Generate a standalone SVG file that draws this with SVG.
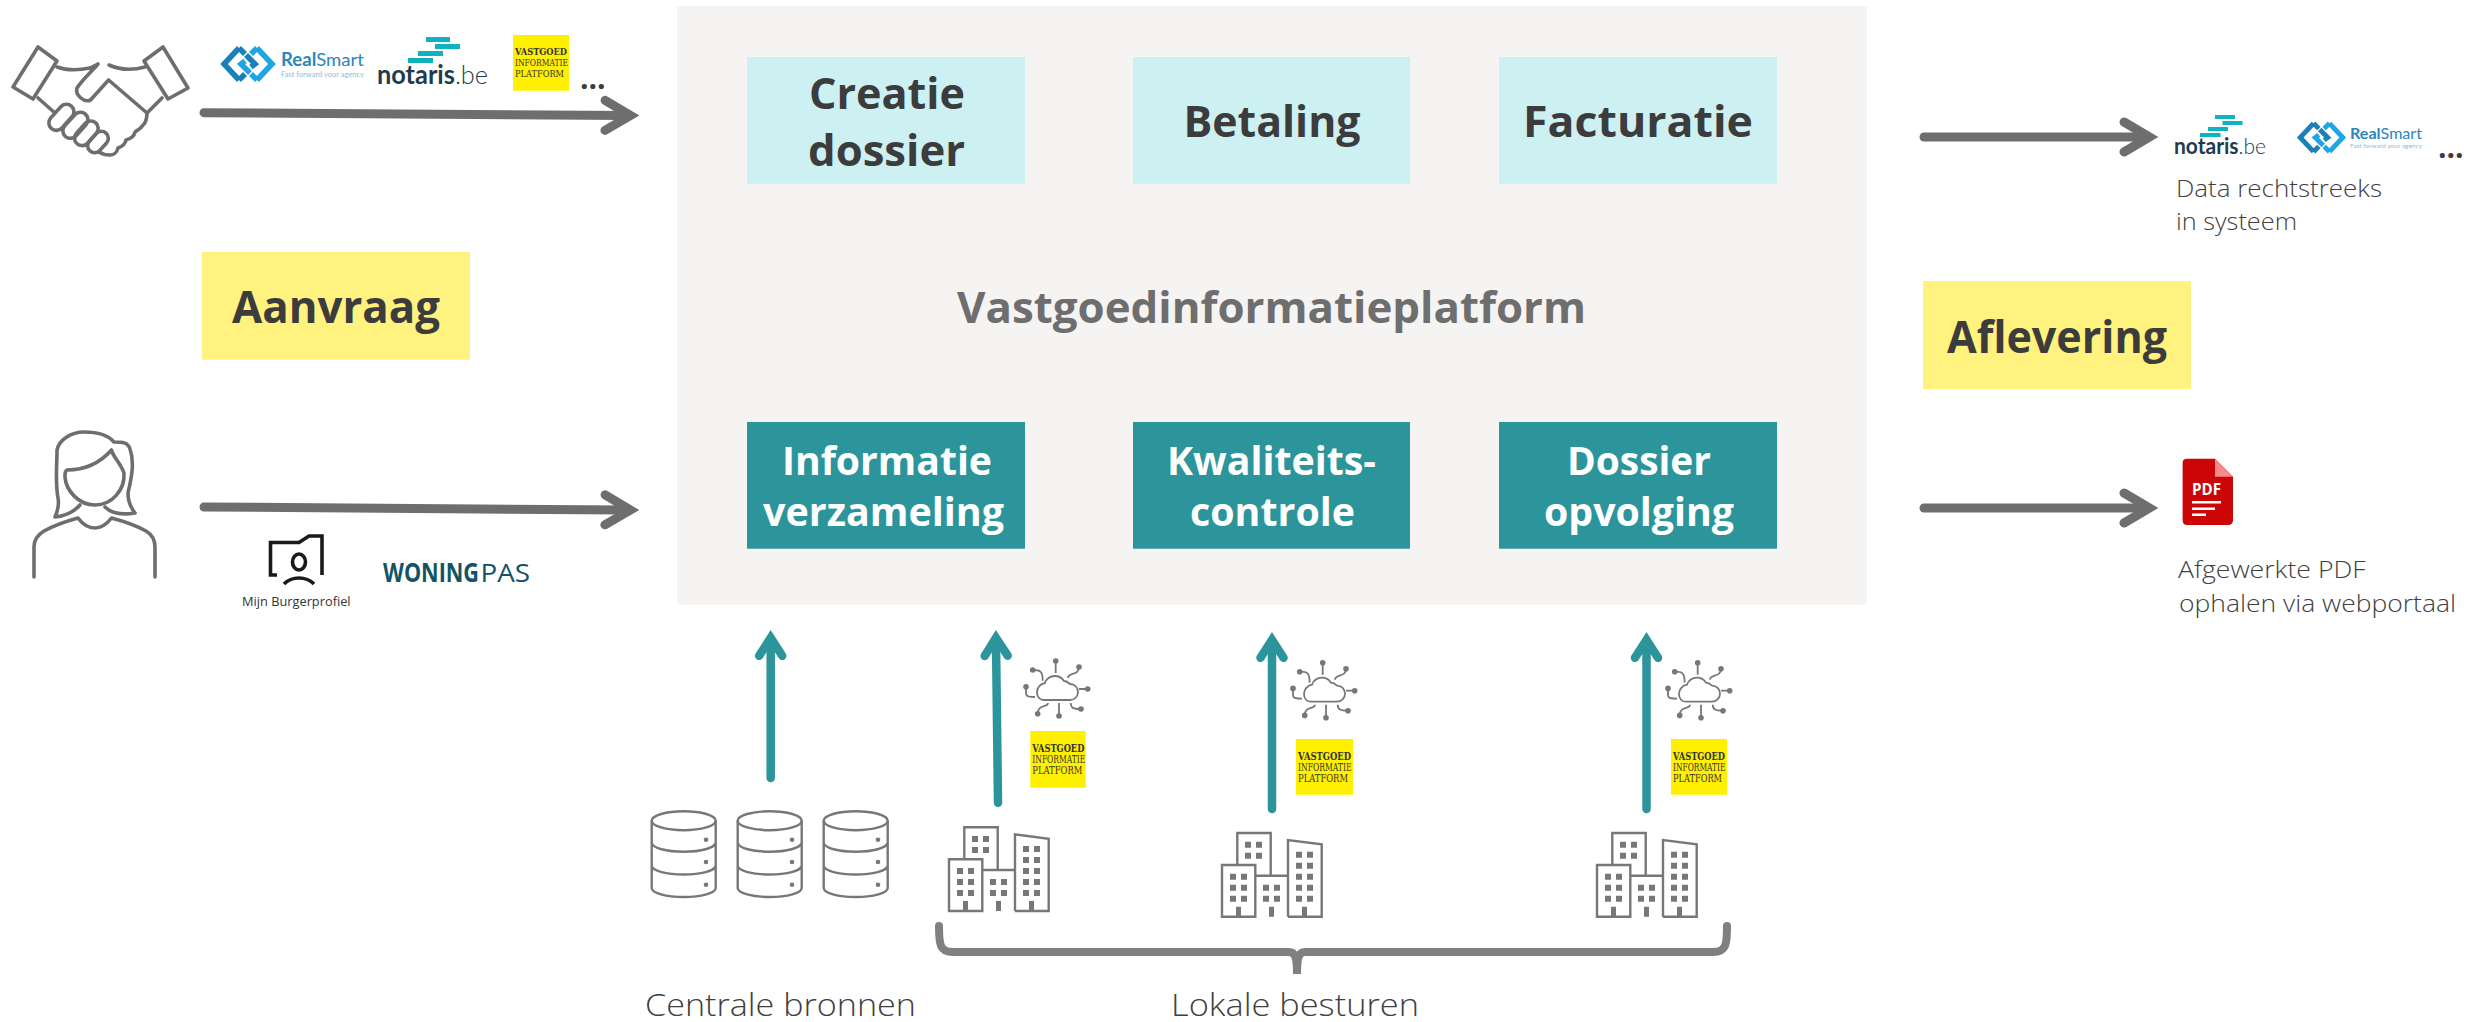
<svg xmlns="http://www.w3.org/2000/svg" xmlns:xlink="http://www.w3.org/1999/xlink" width="2468" height="1022" viewBox="0 0 2468 1022">
<style>
text{font-family:"Open Sans","Noto Sans","Liberation Sans",sans-serif}
.b{font-weight:700;fill:#3c3c3c}
.w{font-weight:700;fill:#fff}
.l{font-weight:300;fill:#404040}
.light{fill:#cdf0f2}
.dark{fill:#2c959c}
.note{fill:#fff27f}
.ic{fill:none;stroke:#6e6e6e;stroke-width:3.6;stroke-linejoin:round;stroke-linecap:round}
.thin{fill:none;stroke:#777;stroke-width:2.4}
.hair{fill:none;stroke:#777;stroke-width:1.8}
.win{fill:#777}
.ga{fill:none;stroke:#6e6e6e;stroke-width:9;stroke-linecap:round;marker-end:url(#gh)}
.ta{fill:none;stroke:#2c959c;stroke-width:8.5;stroke-linecap:round;marker-end:url(#th)}
.vb{fill:#fff000}
.v1{font-family:"DejaVu Serif",serif;font-weight:700;fill:#333}
.v2{font-family:"DejaVu Serif",serif;font-weight:400;fill:#333}
.rsb{font-family:"Lato","Open Sans",sans-serif;fill:#2a86bb}
.rss{font-family:"Lato","Open Sans",sans-serif;fill:#8fbddb}
.nt{font-family:"Lato","Open Sans",sans-serif;fill:#1f3c4e}
.bar{fill:#10b2c0}
.dots{font-weight:700;fill:#3c3c3c}
</style>
<defs>
<marker id="gh" markerUnits="userSpaceOnUse" markerWidth="60" markerHeight="60" refX="25.5" refY="30" orient="auto" overflow="visible">
<path d="M4.5 15L30 30L4.5 45" fill="none" stroke="#6e6e6e" stroke-width="9" stroke-linecap="round" stroke-linejoin="miter"/>
</marker>
<marker id="th" markerUnits="userSpaceOnUse" markerWidth="60" markerHeight="60" refX="25.8" refY="30" orient="auto" overflow="visible">
<path d="M12 18.5L30 30L12 41.5" fill="none" stroke="#2c959c" stroke-width="8.5" stroke-linecap="round" stroke-linejoin="miter"/>
</marker>
<g id="cyl">
<ellipse class="thin" cx="683.7" cy="820.7" rx="32" ry="9.5"/>
<path class="thin" d="M651.7 820.7V888C651.7 893 666 897 683.7 897S715.7 893 715.7 888V820.7M651.7 843C653 848 666 851.7 683.7 851.7S714 848 715.7 843M651.7 866C653 871 666 874.5 683.7 874.5S714 871 715.7 866"/>
<circle class="win" cx="706" cy="839.7" r="2.3"/><circle class="win" cx="706" cy="862" r="2.3"/><circle class="win" cx="706" cy="884.7" r="2.3"/>
</g>
<g id="bld">
<path class="thin" d="M949 859.3H982.3V911H949ZM982.3 911V870H1015V911M964.3 859.3V827.3H997.7V870M1015 870V834.3L1048.7 838.7V911H1015"/>
<path class="win" d="M972 836h6v6h-6zM983 836h6v6h-6zM972 847h6v6h-6zM983 847h6v6h-6zM957 868h6v6h-6zM968 868h6v6h-6zM957 879h6v6h-6zM968 879h6v6h-6zM957 890h6v6h-6zM968 890h6v6h-6zM990 879h6v6h-6zM1001 879h6v6h-6zM990 890h6v6h-6zM1001 890h6v6h-6zM1023 846h6v6h-6zM1034 846h6v6h-6zM1023 857h6v6h-6zM1034 857h6v6h-6zM1023 868h6v6h-6zM1034 868h6v6h-6zM1023 879h6v6h-6zM1034 879h6v6h-6zM1023 890h6v6h-6zM1034 890h6v6h-6zM963 901h5v10h-5zM996 901h5v10h-5zM1029 901h5v10h-5z"/>
</g>
<g id="cloud">
<path class="hair" d="M1044 700H1070C1075 700 1078 696 1078 692C1078 688 1075 684 1070 684C1068 682 1066 681 1064 681C1062 678 1058 676 1055 676C1050 676 1046 679 1045 683C1040 684 1037 688 1037 692C1037 697 1040 700 1044 700Z"/>
<path class="hair" d="M1055.7 661V673M1079 667C1079 676 1068 672 1068 678M1087.7 689H1079M1081 709C1073 709 1071 708 1070.7 703M1059 716V703M1037.7 713.7C1037.7 704 1048 708 1048 703M1026 686.7V693C1026 697 1030 697 1035 697M1032.7 670C1040 670 1042.7 671 1042.7 680.7"/>
<g class="win"><circle cx="1055.7" cy="661" r="2.8"/><circle cx="1079" cy="667" r="2.8"/><circle cx="1087.7" cy="689" r="2.8"/><circle cx="1081" cy="709" r="2.8"/><circle cx="1059" cy="716" r="2.8"/><circle cx="1037.7" cy="713.7" r="2.8"/><circle cx="1026" cy="686.7" r="2.8"/><circle cx="1032.7" cy="670" r="2.8"/></g>
</g>
<g id="rsmark" fill="none" stroke-width="5.5">
<path stroke="#1a80b8" d="M-9 -16L-24 0L-9 16M-9 -16L-3 -10M-9 16L-3 10M3 3L7 0L-2 -9"/>
<path stroke="#1ea5e6" d="M9 -16L24 0L9 16M9 -16L3 -10M9 16L3 10M-3 -3L-7 0L2 9"/>
</g>
</defs>

<rect width="2468" height="1022" fill="#fff"/>

<g id="platform">
<rect x="677" y="6" width="1190" height="598.7" fill="#f5f4f2"/>
<text x="957" y="323" font-size="43" textLength="629" lengthAdjust="spacingAndGlyphs" font-weight="700" fill="#6e6e6e">Vastgoedinformatieplatform</text>
</g>

<g id="creatie-dossier"><rect class="light" x="747" y="57" width="278" height="126.7"/>
<text class="b" x="809" y="109" font-size="43" textLength="156" lengthAdjust="spacingAndGlyphs">Creatie</text>
<text class="b" x="808" y="166" font-size="43" textLength="157" lengthAdjust="spacingAndGlyphs">dossier</text></g>
<g id="betaling"><rect class="light" x="1133" y="57" width="277" height="126.7"/>
<text class="b" x="1183.5" y="137" font-size="43" textLength="177" lengthAdjust="spacingAndGlyphs">Betaling</text></g>
<g id="facturatie"><rect class="light" x="1499" y="57" width="278" height="126.7"/>
<text class="b" x="1523" y="137" font-size="43" textLength="230" lengthAdjust="spacingAndGlyphs">Facturatie</text></g>

<g id="informatieverzameling"><rect class="dark" x="747" y="422" width="278" height="126.7"/>
<text class="w" x="782" y="475" font-size="39" textLength="210" lengthAdjust="spacingAndGlyphs">Informatie</text>
<text class="w" x="763" y="526" font-size="39" textLength="241" lengthAdjust="spacingAndGlyphs">verzameling</text></g>
<g id="kwaliteitscontrole"><rect class="dark" x="1133" y="422" width="277" height="126.7"/>
<text class="w" x="1167" y="475" font-size="39" textLength="209" lengthAdjust="spacingAndGlyphs">Kwaliteits-</text>
<text class="w" x="1190" y="526" font-size="39" textLength="165" lengthAdjust="spacingAndGlyphs">controle</text></g>
<g id="dossieropvolging"><rect class="dark" x="1499" y="422" width="278" height="126.7"/>
<text class="w" x="1567" y="475" font-size="39" textLength="144" lengthAdjust="spacingAndGlyphs">Dossier</text>
<text class="w" x="1544" y="526" font-size="39" textLength="190" lengthAdjust="spacingAndGlyphs">opvolging</text></g>

<g id="aanvraag"><rect class="note" x="202" y="252" width="268" height="107.7"/>
<text class="b" x="232" y="323" font-size="45" textLength="208" lengthAdjust="spacingAndGlyphs">Aanvraag</text></g>
<g id="aflevering"><rect class="note" x="1923" y="281" width="268" height="108"/>
<text class="b" x="1947" y="352.7" font-size="44" textLength="220" lengthAdjust="spacingAndGlyphs">Aflevering</text></g>

<g id="connectors">
<path class="ga" d="M204 112.7L626 115.5"/>
<path class="ga" d="M204 507L626 510"/>
<path class="ga" d="M1924 137H2145"/>
<path class="ga" d="M1924 508H2145"/>
<path class="ta" d="M770.7 778V642"/>
<path class="ta" d="M998 802.7L996 642"/>
<path class="ta" d="M1272 809V644"/>
<path class="ta" d="M1646.5 809V644"/>
<path fill="none" stroke="#808080" stroke-width="8" stroke-linecap="round" d="M939 926C939 945 940 952 953 952H1289C1295 952 1297 957 1297 974C1297 957 1299 952 1305 952H1713C1726 952 1727 945 1727 926"/>
</g>

<g id="handshake">
<path class="ic" d="M38 47L57 61L33 99L13 87ZM163 47L144 61L168 99L188 88Z"/>
<path class="ic" d="M57 67C68 71 80 70 90 68M109 65C120 70 134 70 145 67M162 98L147 113M38 98L55 113"/>
<path class="ic" d="M90 68L98 64C92 71 82 80 77 88C75 95 84 103 90.5 100L108.6 80L147 113C147 119 145 124 143 125C140 130 137 130 135 132C134 137 130 139 126 140C125 145 121 147 118 148C117 153 113 155 110 155C105 155 102 154 99 152"/>
<g class="ic"><rect x="46" y="110" width="30" height="15" rx="7.5" transform="rotate(-48 61 117)"/><rect x="60" y="118" width="30" height="15" rx="7.5" transform="rotate(-48 75 125)"/><rect x="72" y="126" width="28" height="15" rx="7.5" transform="rotate(-48 86 133)"/><rect x="86" y="135" width="24" height="14" rx="7" transform="rotate(-48 98 142)"/></g>
</g>

<g id="person">
<path class="ic" d="M80 505C73 513 65 516 55 517C59 508 59 503 58 498C55 482 57 466 57 450C59 440 71 432 84 432C98 432 109 436 114 442C122 442 128 442 130 449C135 463 131 480 128 493C128 502 131 508 135 513C123 515 112 514 105 507"/>
<path class="ic" d="M67 470C85 470 100 463 111.500 450C113 457 120 462 124 473C125 490 112 505 95 505C78 505 66 490 65 477C65 473 65 471 67 470Z"/>
<path class="ic" stroke-linecap="butt" d="M34 577V547C34 539 39 534 44 531C55 525 67 521 78 518C84 526 89 528 95 528C101 528 106 525 111.500 518C123 521 135 525 146 531C151 534 155 539 155 547V577"/>
</g>

<g id="logo-realsmart-1">
<use href="#rsmark" transform="translate(248 64)"/>
<text class="rsb" x="281" y="65.700" font-size="18" textLength="83" lengthAdjust="spacingAndGlyphs"><tspan font-weight="700">Real</tspan><tspan font-weight="400">Smart</tspan></text>
<text class="rss" x="281" y="76.700" font-size="7.500" textLength="83" lengthAdjust="spacingAndGlyphs">Fast forward your agency</text>
</g>
<g id="logo-notaris-1">
<path class="bar" d="M426 37h24v5h-24zM435 44h25v5h-25zM418 51h25v5h-25zM408 58h25v5h-25z"/>
<text class="nt" x="377" y="84" font-size="26" textLength="111" lengthAdjust="spacingAndGlyphs"><tspan font-weight="700">notaris</tspan><tspan font-weight="300">.be</tspan></text>
</g>
<g id="logo-vip-1"><rect class="vb" x="513" y="35" width="56" height="55.700"/>
<text class="v1" x="515" y="55" font-size="10" textLength="52" lengthAdjust="spacingAndGlyphs">VASTGOED</text>
<text class="v2" x="515" y="66" font-size="10" textLength="53" lengthAdjust="spacingAndGlyphs">INFORMATIE</text>
<text class="v2" x="515" y="76.700" font-size="10" textLength="49" lengthAdjust="spacingAndGlyphs">PLATFORM</text></g>
<text class="dots" x="580" y="88.500" font-size="30">...</text>

<g id="logo-burgerprofiel">
<path fill="none" stroke="#1a1a1a" stroke-width="3.600" d="M277 575H270.500V542.500H299L309 536H322V575"/>
<ellipse cx="299" cy="562" rx="6.500" ry="8" fill="none" stroke="#1a1a1a" stroke-width="3.600"/>
<path fill="none" stroke="#1a1a1a" stroke-width="3.600" d="M284 584C292 576 306 576 314 584"/>
<text x="242" y="606" font-size="13.500" font-weight="500" textLength="108.600" lengthAdjust="spacingAndGlyphs" fill="#333">Mijn Burgerprofiel</text>
</g>
<g id="logo-woningpas">
<text x="383" y="581.700" font-size="26" font-weight="700" textLength="96" lengthAdjust="spacingAndGlyphs" fill="#125464">WONING</text>
<text x="480.500" y="581.700" font-size="26" font-weight="400" textLength="49.500" lengthAdjust="spacingAndGlyphs" fill="#125464">PAS</text>
</g>

<g id="logo-notaris-2">
<path class="bar" d="M2215 115h20v4h-20zM2222.500 121h20v4h-20zM2208 127h20v4h-20zM2200 133h20.500v4h-20.500z"/>
<text class="nt" x="2174" y="154" font-size="22" textLength="92" lengthAdjust="spacingAndGlyphs"><tspan font-weight="700">notaris</tspan><tspan font-weight="300">.be</tspan></text>
</g>
<g id="logo-realsmart-2">
<use href="#rsmark" transform="translate(2321.500 137.500) scale(.887)"/>
<text class="rsb" x="2350" y="138.700" font-size="16" textLength="72" lengthAdjust="spacingAndGlyphs"><tspan font-weight="700">Real</tspan><tspan font-weight="400">Smart</tspan></text>
<text class="rss" x="2350" y="148" font-size="6.500" textLength="72" lengthAdjust="spacingAndGlyphs">Fast forward your agency</text>
</g>
<text class="dots" x="2438" y="157.500" font-size="30">...</text>
<g id="label-data"><text class="l" x="2176" y="197" font-size="24.500" textLength="206" lengthAdjust="spacingAndGlyphs">Data rechtstreeks</text>
<text class="l" x="2176" y="230" font-size="24.500" textLength="121" lengthAdjust="spacingAndGlyphs">in systeem</text></g>

<g id="pdf-icon">
<path fill="#cc0606" d="M2187 458.700H2215L2233 476.700V520C2233 523 2231 525 2228 525H2187C2184 525 2182.600 523 2182.600 520V463C2182.600 460 2184 458.700 2187 458.700Z"/>
<path fill="#f48a8a" d="M2215 458.700L2233 476.700H2215Z"/>
<text x="2192" y="495" font-size="16" font-weight="700" fill="#fff" textLength="29" lengthAdjust="spacingAndGlyphs">PDF</text>
<path fill="#fff" d="M2192 501h29v2.500h-29zM2192 507.500h23v2.500h-23zM2192 513.500h14v2.500h-14z"/>
</g>
<g id="label-pdf"><text class="l" x="2178" y="578" font-size="24.500" textLength="187.600" lengthAdjust="spacingAndGlyphs">Afgewerkte PDF</text>
<text class="l" x="2179" y="611.700" font-size="24.500" textLength="277" lengthAdjust="spacingAndGlyphs">ophalen via webportaal</text></g>

<g id="centrale-bronnen">
<use href="#cyl"/><use href="#cyl" transform="translate(86 0)"/><use href="#cyl" transform="translate(172 0)"/>
<text class="l" x="645" y="1015.500" font-size="32" textLength="271" lengthAdjust="spacingAndGlyphs">Centrale bronnen</text>
</g>

<g id="lokaal-1"><use href="#bld"/><use href="#cloud"/>
<rect class="vb" x="1030.300" y="731" width="55.400" height="56.700"/>
<text class="v1" x="1032.300" y="751.700" font-size="10.500" textLength="52" lengthAdjust="spacingAndGlyphs">VASTGOED</text>
<text class="v2" x="1032.300" y="762.700" font-size="10.500" textLength="53" lengthAdjust="spacingAndGlyphs">INFORMATIE</text>
<text class="v2" x="1032.300" y="774" font-size="10.500" textLength="50" lengthAdjust="spacingAndGlyphs">PLATFORM</text></g>
<g id="lokaal-2"><use href="#bld" transform="translate(273 5.700)"/><use href="#cloud" transform="translate(267 1.700)"/>
<rect class="vb" x="1296" y="739" width="57" height="55.700"/>
<text class="v1" x="1298" y="759.700" font-size="10.500" textLength="53" lengthAdjust="spacingAndGlyphs">VASTGOED</text>
<text class="v2" x="1298" y="770.700" font-size="10.500" textLength="53.500" lengthAdjust="spacingAndGlyphs">INFORMATIE</text>
<text class="v2" x="1298" y="782" font-size="10.500" textLength="50" lengthAdjust="spacingAndGlyphs">PLATFORM</text></g>
<g id="lokaal-3"><use href="#bld" transform="translate(648 5.700)"/><use href="#cloud" transform="translate(642 1.700)"/>
<rect class="vb" x="1671" y="739" width="56" height="55.700"/>
<text class="v1" x="1673" y="759.700" font-size="10.500" textLength="52" lengthAdjust="spacingAndGlyphs">VASTGOED</text>
<text class="v2" x="1673" y="770.700" font-size="10.500" textLength="52.500" lengthAdjust="spacingAndGlyphs">INFORMATIE</text>
<text class="v2" x="1673" y="782" font-size="10.500" textLength="49" lengthAdjust="spacingAndGlyphs">PLATFORM</text></g>
<text id="lokale-besturen" class="l" x="1171" y="1015.600" font-size="32" textLength="248" lengthAdjust="spacingAndGlyphs">Lokale besturen</text>
</svg>
